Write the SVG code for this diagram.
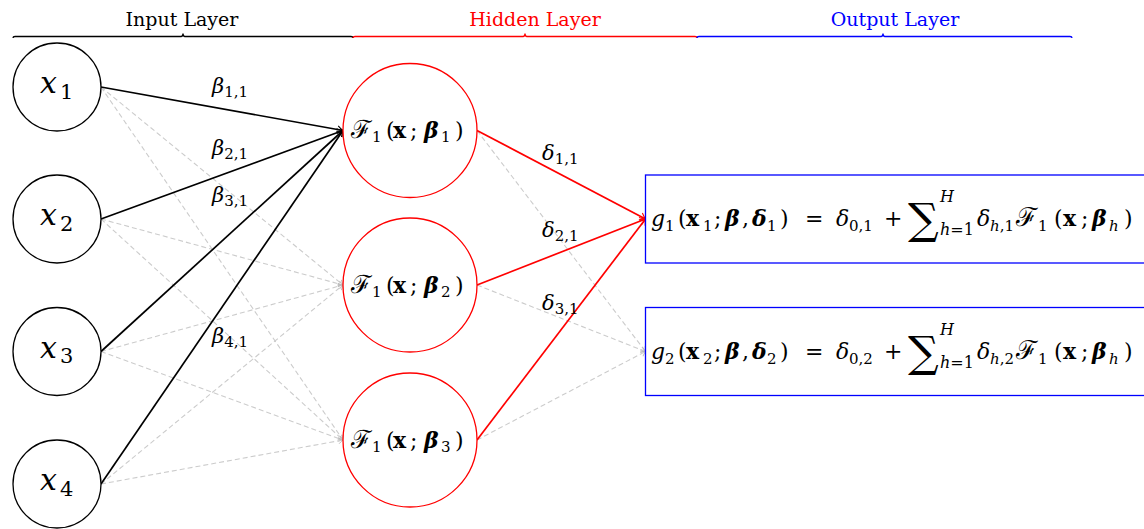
<svg xmlns="http://www.w3.org/2000/svg" width="1144" height="529" viewBox="0 0 1144 529" font-family="DejaVu Serif, serif">
<style>
text{font-family:"DejaVu Serif",serif}
.i{font-style:italic}
.b{font-weight:bold}
.bi{font-weight:bold;font-style:italic}
.in{stroke:#000;stroke-width:1.3;fill:#fff}
.hid{stroke:#ff0000;stroke-width:1.3;fill:#fff}
.box{stroke:#0000ff;stroke-width:1.3;fill:#fff}
.solid{stroke:#000;stroke-width:1.7;fill:none}
.red{stroke:#ff0000;stroke-width:1.7;fill:none}
.dash{stroke:#cccccc;stroke-width:1.1;stroke-dasharray:5 3;fill:none}
.brace{fill:none;stroke-width:1.3}
.hl{font-size:22px}
.hs{font-size:15px}
.eq{font-size:22px}
.es{font-size:15px}
.lb{font-size:21px}
.ls{font-size:15px}
.xn{font-size:30px}
.xs{font-size:21px}
</style>
<defs>
<marker id="ak" viewBox="-7 -5 8 10" refX="0" refY="0" markerWidth="8" markerHeight="10" markerUnits="userSpaceOnUse" orient="auto"><path d="M-5.5,-3.8 Q-1.5,-0.6 0,0 Q-1.5,0.6 -5.5,3.8" fill="none" stroke="#000" stroke-width="1.1"/></marker>
<marker id="ar" viewBox="-7 -5 8 10" refX="0" refY="0" markerWidth="8" markerHeight="10" markerUnits="userSpaceOnUse" orient="auto"><path d="M-5.5,-3.8 Q-1.5,-0.6 0,0 Q-1.5,0.6 -5.5,3.8" fill="none" stroke="#ff0000" stroke-width="1.1"/></marker>
<marker id="ag" viewBox="-7 -5 8 10" refX="0" refY="0" markerWidth="8" markerHeight="10" markerUnits="userSpaceOnUse" orient="auto"><path d="M-4.5,-3 Q-1.2,-0.5 0,0 Q-1.2,0.5 -4.5,3" fill="none" stroke="#bbbbbb" stroke-width="0.9"/></marker>
</defs>

<g id="layer-labels">
<path class="brace" stroke="#000" d="M13,38 q0,-1.5 2,-1.5 L181,36.5 q2,0 2,-3 q0,3 2,3 L351,36.5 q2,0 2,1.5"/>
<path class="brace" stroke="#ff0000" d="M353,38 q0,-1.5 2,-1.5 L523,36.5 q2,0 2,-3 q0,3 2,3 L695,36.5 q2,0 2,1.5"/>
<path class="brace" stroke="#0000ff" d="M697,38 q0,-1.5 2,-1.5 L881,36.5 q2,0 2,-3 q0,3 2,3 L1070,36.5 q2,0 2,1.5"/>
<text x="182" y="26" text-anchor="middle" font-size="19">Input Layer</text>
<text x="535" y="26" text-anchor="middle" font-size="19" fill="#ff0000">Hidden Layer</text>
<text x="895" y="26" text-anchor="middle" font-size="19" fill="#0000ff">Output Layer</text>
</g>

<g id="connectors">
<line class="dash" x1="101" y1="87" x2="343" y2="285" marker-end="url(#ag)"/>
<line class="dash" x1="101" y1="87" x2="343" y2="440" marker-end="url(#ag)"/>
<line class="dash" x1="101" y1="219" x2="343" y2="285" marker-end="url(#ag)"/>
<line class="dash" x1="101" y1="219" x2="343" y2="440" marker-end="url(#ag)"/>
<line class="dash" x1="101" y1="351.5" x2="343" y2="285" marker-end="url(#ag)"/>
<line class="dash" x1="101" y1="351.5" x2="343" y2="440" marker-end="url(#ag)"/>
<line class="dash" x1="101" y1="484" x2="343" y2="285" marker-end="url(#ag)"/>
<line class="dash" x1="101" y1="484" x2="343" y2="440" marker-end="url(#ag)"/>
<line class="dash" x1="477" y1="130.5" x2="645.5" y2="351.5" marker-end="url(#ag)"/>
<line class="dash" x1="477" y1="285" x2="645.5" y2="351.5" marker-end="url(#ag)"/>
<line class="dash" x1="477" y1="440" x2="645.5" y2="351.5" marker-end="url(#ag)"/>
<line class="solid" x1="101" y1="87" x2="343" y2="130.5" marker-end="url(#ak)"/>
<line class="solid" x1="101" y1="219" x2="343" y2="130.5" marker-end="url(#ak)"/>
<line class="solid" x1="101" y1="351.5" x2="343" y2="130.5" marker-end="url(#ak)"/>
<line class="solid" x1="101" y1="484" x2="343" y2="130.5" marker-end="url(#ak)"/>
<line class="red" x1="477" y1="130.5" x2="645.5" y2="219" marker-end="url(#ar)"/>
<line class="red" x1="477" y1="285" x2="645.5" y2="219" marker-end="url(#ar)"/>
<line class="red" x1="477" y1="440" x2="645.5" y2="219" marker-end="url(#ar)"/>
<text class="lb" x="212" y="93"><tspan class="i">β</tspan><tspan class="ls" dy="4">1,1</tspan></text>
<text class="lb" x="212" y="155"><tspan class="i">β</tspan><tspan class="ls" dy="4">2,1</tspan></text>
<text class="lb" x="212" y="202"><tspan class="i">β</tspan><tspan class="ls" dy="4">3,1</tspan></text>
<text class="lb" x="212" y="343"><tspan class="i">β</tspan><tspan class="ls" dy="4">4,1</tspan></text>
<text class="lb" x="542" y="160"><tspan class="i">δ</tspan><tspan class="ls" dy="4">1,1</tspan></text>
<text class="lb" x="542" y="237"><tspan class="i">δ</tspan><tspan class="ls" dy="4">2,1</tspan></text>
<text class="lb" x="542" y="310"><tspan class="i">δ</tspan><tspan class="ls" dy="4">3,1</tspan></text>
</g>

<g id="x1"><circle class="in" cx="57" cy="87" r="44"/><text class="xn i" x="40" y="93">x</text><text class="xs" x="60" y="98.5">1</text></g>
<g id="x2"><circle class="in" cx="57" cy="219" r="44"/><text class="xn i" x="40" y="225">x</text><text class="xs" x="60" y="230.5">2</text></g>
<g id="x3"><circle class="in" cx="57" cy="351.5" r="44"/><text class="xn i" x="40" y="357.5">x</text><text class="xs" x="60" y="363">3</text></g>
<g id="x4"><circle class="in" cx="57" cy="484" r="44"/><text class="xn i" x="40" y="490">x</text><text class="xs" x="60" y="495.5">4</text></g>

<g id="h1"><circle class="hid" cx="410" cy="130.5" r="67"/>
<g><text x="351" y="138" font-size="25">ℱ</text><text class="hs" x="372" y="142">1</text><text class="hl" x="386" y="138">(</text><text class="hl b" x="393" y="138">x</text><text class="hl" x="410" y="138">;</text><text class="hl bi" x="424" y="138">β</text><text class="hs" x="441" y="142">1</text><text class="hl" x="455" y="138">)</text></g></g>
<g id="h2"><circle class="hid" cx="410" cy="285" r="67"/>
<g transform="translate(0,154.5)"><text x="351" y="138" font-size="25">ℱ</text><text class="hs" x="372" y="142">1</text><text class="hl" x="386" y="138">(</text><text class="hl b" x="393" y="138">x</text><text class="hl" x="410" y="138">;</text><text class="hl bi" x="424" y="138">β</text><text class="hs" x="441" y="142">2</text><text class="hl" x="455" y="138">)</text></g></g>
<g id="h3"><circle class="hid" cx="410" cy="440" r="67"/>
<g transform="translate(0,309.5)"><text x="351" y="138" font-size="25">ℱ</text><text class="hs" x="372" y="142">1</text><text class="hl" x="386" y="138">(</text><text class="hl b" x="393" y="138">x</text><text class="hl" x="410" y="138">;</text><text class="hl bi" x="424" y="138">β</text><text class="hs" x="441" y="142">3</text><text class="hl" x="455" y="138">)</text></g></g>

<g id="out1">
<rect class="box" x="645.5" y="175" width="510" height="88"/>
<text class="eq i" x="651" y="226">g</text><text class="es" x="665" y="231">1</text>
<text class="eq" x="678" y="226">(</text><text class="eq b" x="686" y="226">x</text><text class="es" x="703" y="231">1</text><text class="eq" x="714" y="226">;</text><text class="eq bi" x="725" y="226">β</text><text class="eq" x="742" y="226">,</text><text class="eq bi" x="752" y="226">δ</text><text class="es" x="767" y="231">1</text><text class="eq" x="780" y="226">)</text>
<text class="eq" x="805" y="226">=</text>
<text class="eq i" x="836" y="226">δ</text><text class="es" x="849" y="231">0,1</text>
<text class="eq" x="884" y="226">+</text>
<text x="908" y="234" font-size="43">∑</text>
<text x="940" y="202" font-size="16" class="i">H</text>
<text x="940" y="235" font-size="16"><tspan class="i">h</tspan>=1</text>
<text class="eq i" x="977" y="226">δ</text><text class="es" x="990" y="231"><tspan class="i">h</tspan>,1</text>
<text x="1016" y="226" font-size="26">ℱ</text><text class="es" x="1038" y="231">1</text>
<text class="eq" x="1054" y="226">(</text><text class="eq b" x="1063" y="226">x</text><text class="eq" x="1081" y="226">;</text><text class="eq bi" x="1092" y="226">β</text><text class="es i" x="1109" y="231">h</text><text class="eq" x="1124" y="226">)</text>
</g>
<g id="out2">
<rect class="box" x="645.5" y="307.5" width="510" height="88"/>
<g transform="translate(0,132.5)">
<text class="eq i" x="651" y="226">g</text><text class="es" x="665" y="231">2</text>
<text class="eq" x="678" y="226">(</text><text class="eq b" x="686" y="226">x</text><text class="es" x="703" y="231">2</text><text class="eq" x="714" y="226">;</text><text class="eq bi" x="725" y="226">β</text><text class="eq" x="742" y="226">,</text><text class="eq bi" x="752" y="226">δ</text><text class="es" x="767" y="231">2</text><text class="eq" x="780" y="226">)</text>
<text class="eq" x="805" y="226">=</text>
<text class="eq i" x="836" y="226">δ</text><text class="es" x="849" y="231">0,2</text>
<text class="eq" x="884" y="226">+</text>
<text x="908" y="234" font-size="43">∑</text>
<text x="940" y="202" font-size="16" class="i">H</text>
<text x="940" y="235" font-size="16"><tspan class="i">h</tspan>=1</text>
<text class="eq i" x="977" y="226">δ</text><text class="es" x="990" y="231"><tspan class="i">h</tspan>,2</text>
<text x="1016" y="226" font-size="26">ℱ</text><text class="es" x="1038" y="231">1</text>
<text class="eq" x="1054" y="226">(</text><text class="eq b" x="1063" y="226">x</text><text class="eq" x="1081" y="226">;</text><text class="eq bi" x="1092" y="226">β</text><text class="es i" x="1109" y="231">h</text><text class="eq" x="1124" y="226">)</text>
</g>
</g>
</svg>
